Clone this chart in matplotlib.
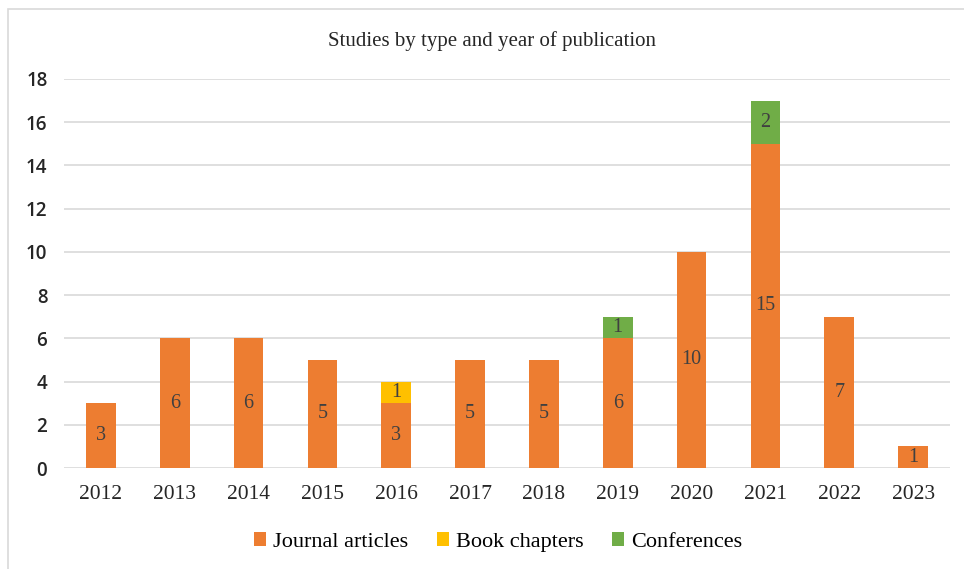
import matplotlib
matplotlib.use("Agg")
import matplotlib.pyplot as plt
from matplotlib.patches import Rectangle, Patch
import numpy as np

years = ["2012", "2013", "2014", "2015", "2016", "2017", "2018", "2019", "2020", "2021", "2022", "2023"]
journal = [3, 6, 6, 5, 3, 5, 5, 6, 10, 15, 7, 1]
book = [0, 0, 0, 0, 1, 0, 0, 0, 0, 0, 0, 0]
conf = [0, 0, 0, 0, 0, 0, 0, 1, 0, 2, 0, 0]
series_names = ["Journal articles", "Book chapters", "Conferences"]
colors = ["#ED7D31", "#FFC000", "#70AD47"]
yticks = [0, 2, 4, 6, 8, 10, 12, 14, 16, 18]

W, H = 964, 569
fig = plt.figure(figsize=(W / 100, H / 100), dpi=100)
fig.patches.append(Rectangle((8 / W, -0.1), 1.2, 1.1 - 9 / H, transform=fig.transFigure,
                             fill=False, edgecolor="#D9D9D9", linewidth=1.2))
ax = fig.add_axes([64 / W, 1 - 468 / H, (950 - 64) / W, (468 - 79) / H])

x = np.arange(len(years))
serif = "Liberation Serif"
bottom = np.zeros(len(years))
for vals, name, c in zip([journal, book, conf], series_names, colors):
    vals = np.array(vals, dtype=float)
    ax.bar(x, vals, width=0.4, bottom=bottom, color=c, label=name, zorder=3)
    for xi, v, b in zip(x, vals, bottom):
        if v > 0:
            ax.text(xi, b + v / 2, f"{int(v)}", ha="center", va="center",
                    fontsize=14.5, family=serif, color="#404040", zorder=4)
    bottom += vals

ax.set_xlim(-0.5, len(years) - 0.5)
ax.set_ylim(0, 18)
ax.set_yticks(yticks)
ax.set_yticklabels([str(t) for t in yticks], fontsize=13.5, family="Open Sans",
                   color="#262626", fontweight="semibold")
ax.set_xticks(x)
ax.set_xticklabels(years, fontsize=15.5, family=serif, color="#262626")
ax.tick_params(axis="both", length=0)
ax.tick_params(axis="y", pad=12)
ax.tick_params(axis="x", pad=12)
ax.grid(axis="y", color="#D9D9D9", linewidth=1.2, zorder=0)
for s in ax.spines.values():
    s.set_visible(False)

fig.text(492 / W, 1 - 41 / H, "Studies by type and year of publication", ha="center", va="center",
         fontsize=15, family=serif, color="#262626")

handles = [Patch(facecolor=c, label=n) for c, n in zip(colors, series_names)]
fig.legend(handles=handles, loc="center", bbox_to_anchor=(498 / W, 1 - 542 / H), ncol=3,
           frameon=False, prop={"family": serif, "size": 16}, handlelength=0.55, handleheight=0.55,
           handletextpad=0.3, columnspacing=1.3)

fig.savefig("out.png", dpi=100, facecolor="white")
